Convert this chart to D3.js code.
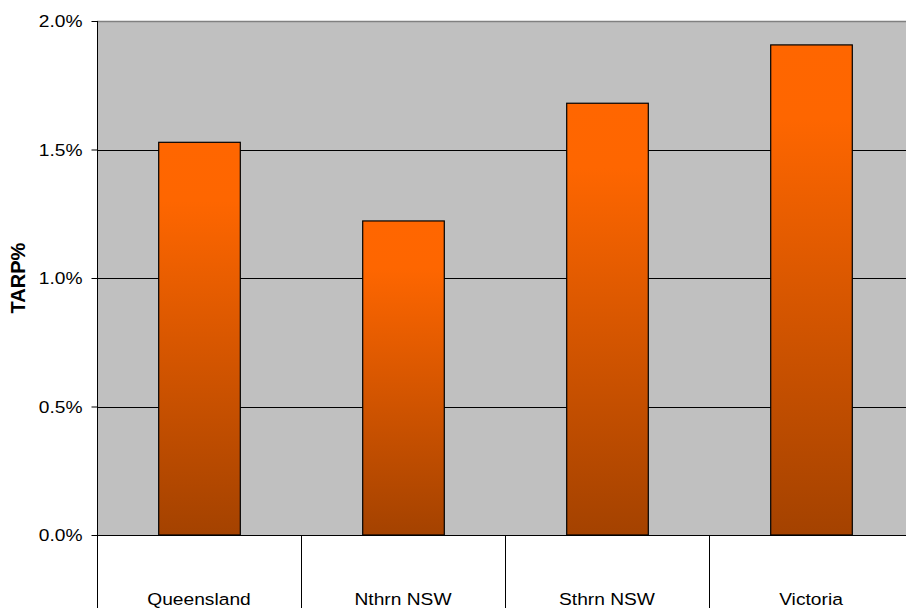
<!DOCTYPE html>
<html>
<head>
<meta charset="utf-8">
<script src="https://cdn.jsdelivr.net/npm/d3@7"></script>
<style>
  html, body { margin: 0; padding: 0; background: #fff; }
  svg { display: block; }
  text { font-family: "Liberation Sans", Arial, sans-serif; fill: #000; }
</style>
</head>
<body>
<svg id="chart" width="906" height="608"></svg>
<script>
// TARP% by region
const categories = ["Queensland", "Nthrn NSW", "Sthrn NSW", "Victoria"];
const tarpValues = [1.528, 1.222, 1.680, 1.907];
const yTicks = [0, 0.5, 1.0, 1.5, 2.0];
const yTickLabels = ["0.0%", "0.5%", "1.0%", "1.5%", "2.0%"];
const yTitle = "TARP%";

const W = 906, H = 608;
const plot = { left: 97, top: 21, bottom: 535, bandWidth: 204 };
const plotRight = plot.left + plot.bandWidth * categories.length;

const svg = d3.select("#chart");

const x = d3.scaleBand()
  .domain(categories)
  .range([plot.left, plotRight])
  .paddingInner(0.6)
  .paddingOuter(0.3);

const xBands = d3.scaleBand().domain(categories).range([plot.left, plotRight]);

const y = d3.scaleLinear().domain([0, 2.0]).range([plot.bottom, plot.top]);

// bar gradient
const defs = svg.append("defs");
const grad = defs.append("linearGradient")
  .attr("id", "barFill")
  .attr("x1", 0).attr("y1", 0).attr("x2", 0).attr("y2", 1);
grad.append("stop").attr("offset", "0%").attr("stop-color", "#FF6600");
grad.append("stop").attr("offset", "15%").attr("stop-color", "#FE6600");
grad.append("stop").attr("offset", "100%").attr("stop-color", "#A44200");

// plot background
svg.append("rect")
  .attr("x", plot.left).attr("y", plot.top)
  .attr("width", plotRight - plot.left)
  .attr("height", plot.bottom - plot.top)
  .attr("fill", "#C0C0C0");

// gridlines
svg.append("g")
  .selectAll("line")
  .data(yTicks.filter(t => t > 0))
  .join("line")
  .attr("x1", plot.left).attr("x2", plotRight)
  .attr("y1", d => Math.round(y(d)) + 0.5)
  .attr("y2", d => Math.round(y(d)) + 0.5)
  .attr("stroke", d => d === 2.0 ? "#808080" : "#000")
  .attr("stroke-width", d => d === 2.0 ? 1.5 : 1);

// bars
svg.append("g")
  .selectAll("rect")
  .data(categories.map((c, i) => ({ c, v: tarpValues[i] })))
  .join("rect")
  .attr("x", d => x(d.c) + 0.5)
  .attr("y", d => y(d.v))
  .attr("width", x.bandwidth())
  .attr("height", d => y(0) - y(d.v))
  .attr("fill", "url(#barFill)")
  .attr("stroke", "#000")
  .attr("stroke-width", 1.2);

// y axis
const yAxis = d3.axisLeft(y)
  .tickValues(yTicks)
  .tickFormat((d, i) => yTickLabels[i])
  .tickSize(6)
  .tickPadding(9);

const yg = svg.append("g")
  .attr("transform", `translate(${plot.left + 0.5},0)`)
  .call(yAxis);
yg.select(".domain").remove();
yg.selectAll(".tick line").attr("stroke", "#000");
yg.selectAll(".tick text")
  .attr("font-size", 17)
  .attr("font-family", "'Liberation Sans', Arial, sans-serif")
  .attr("fill", "#000")
  .attr("transform", "scale(1.13,1)")
  .attr("x", -15 / 1.13)
  .attr("dy", "0.35em");

// vertical axis line through plot and category area
svg.append("line")
  .attr("x1", plot.left + 0.5).attr("x2", plot.left + 0.5)
  .attr("y1", plot.top).attr("y2", H)
  .attr("stroke", "#000");

// baseline
svg.append("line")
  .attr("x1", plot.left).attr("x2", plotRight)
  .attr("y1", y(0) + 0.5).attr("y2", y(0) + 0.5)
  .attr("stroke", "#000");

// category dividers below the plot
svg.append("g")
  .selectAll("line")
  .data(categories.slice(1))
  .join("line")
  .attr("x1", d => Math.round(xBands(d)) + 0.5)
  .attr("x2", d => Math.round(xBands(d)) + 0.5)
  .attr("y1", plot.bottom)
  .attr("y2", H)
  .attr("stroke", "#000");

// category labels
svg.append("g")
  .selectAll("text")
  .data(categories)
  .join("text")
  .attr("text-anchor", "middle")
  .attr("font-size", 17)
  .attr("transform", d => `translate(${xBands(d) + xBands.bandwidth() / 2},605) scale(1.13,1)`)
  .text(d => d);

// y axis title
svg.append("text")
  .attr("transform", "translate(25,278) rotate(-90)")
  .attr("text-anchor", "middle")
  .attr("font-size", 20)
  .attr("font-weight", "bold")
  .text(yTitle);
</script>
</body>
</html>
